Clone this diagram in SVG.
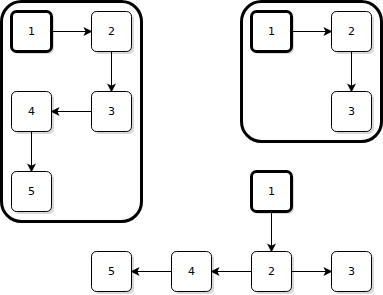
<svg xmlns="http://www.w3.org/2000/svg" width="383" height="295" viewBox="0 0 383 295">
<style>
.c{fill:#fff;stroke:#000;stroke-width:3}
.n rect.s{fill:#000;opacity:0.15;stroke:none}
.n rect.b{fill:#fff;stroke:#000;stroke-width:1}
.n.bold rect.b{stroke-width:3}
.n text{font-family:"DejaVu Sans",Verdana,sans-serif;font-size:11px;fill:#000;text-anchor:middle;dominant-baseline:central}
.e{stroke:#000;stroke-width:1;fill:none;marker-end:url(#a)}
</style>
<defs>
<marker id="a" viewBox="0 0 10 10" refX="9" refY="5" markerWidth="9" markerHeight="9" markerUnits="userSpaceOnUse" orient="auto">
<path d="M0,0 L10,5 L0,10 L2.5,5 Z" fill="#000"/>
</marker>
</defs>
<g id="container-left"><rect class="c" x="1.5" y="1.5" width="140" height="220" rx="20"/></g>
<g id="container-right"><rect class="c" x="241.5" y="1.5" width="140" height="140" rx="20"/></g>

<g id="L1" class="n bold"><rect class="s" x="14" y="14" width="40" height="40" rx="5"/><rect class="b" x="11.5" y="11.5" width="40" height="40" rx="5"/><text x="31.5" y="31.5">1</text></g>
<g id="L2" class="n"><rect class="s" x="94" y="14" width="40" height="40" rx="5"/><rect class="b" x="91.5" y="11.5" width="40" height="40" rx="5"/><text x="111.5" y="31.5">2</text></g>
<g id="L3" class="n"><rect class="s" x="94" y="94" width="40" height="40" rx="5"/><rect class="b" x="91.5" y="91.5" width="40" height="40" rx="5"/><text x="111.5" y="111.5">3</text></g>
<g id="L4" class="n"><rect class="s" x="14" y="94" width="40" height="40" rx="5"/><rect class="b" x="11.5" y="91.5" width="40" height="40" rx="5"/><text x="31.5" y="111.5">4</text></g>
<g id="L5" class="n"><rect class="s" x="14" y="174" width="40" height="40" rx="5"/><rect class="b" x="11.5" y="171.5" width="40" height="40" rx="5"/><text x="31.5" y="191.5">5</text></g>

<g id="R1" class="n bold"><rect class="s" x="254" y="14" width="40" height="40" rx="5"/><rect class="b" x="251.5" y="11.5" width="40" height="40" rx="5"/><text x="271.5" y="31.5">1</text></g>
<g id="R2" class="n"><rect class="s" x="334" y="14" width="40" height="40" rx="5"/><rect class="b" x="331.5" y="11.5" width="40" height="40" rx="5"/><text x="351.5" y="31.5">2</text></g>
<g id="R3" class="n"><rect class="s" x="334" y="94" width="40" height="40" rx="5"/><rect class="b" x="331.5" y="91.5" width="40" height="40" rx="5"/><text x="351.5" y="111.5">3</text></g>

<g id="B1" class="n bold"><rect class="s" x="254" y="174" width="40" height="40" rx="5"/><rect class="b" x="251.5" y="171.5" width="40" height="40" rx="5"/><text x="271.5" y="191.5">1</text></g>
<g id="B2" class="n"><rect class="s" x="254" y="254" width="40" height="40" rx="5"/><rect class="b" x="251.5" y="251.5" width="40" height="40" rx="5"/><text x="271.5" y="271.5">2</text></g>
<g id="B3" class="n"><rect class="s" x="334" y="254" width="40" height="40" rx="5"/><rect class="b" x="331.5" y="251.5" width="40" height="40" rx="5"/><text x="351.5" y="271.5">3</text></g>
<g id="B4" class="n"><rect class="s" x="174" y="254" width="40" height="40" rx="5"/><rect class="b" x="171.5" y="251.5" width="40" height="40" rx="5"/><text x="191.5" y="271.5">4</text></g>
<g id="B5" class="n"><rect class="s" x="94" y="254" width="40" height="40" rx="5"/><rect class="b" x="91.5" y="251.5" width="40" height="40" rx="5"/><text x="111.5" y="271.5">5</text></g>

<g id="connectors">
<line class="e" x1="51.5" y1="31.5" x2="91.5" y2="31.5"/>
<line class="e" x1="111.5" y1="51.5" x2="111.5" y2="91.5"/>
<line class="e" x1="91.5" y1="111.5" x2="51.5" y2="111.5"/>
<line class="e" x1="31.5" y1="131.5" x2="31.5" y2="171.5"/>
<line class="e" x1="291.5" y1="31.5" x2="331.5" y2="31.5"/>
<line class="e" x1="351.5" y1="51.5" x2="351.5" y2="91.5"/>
<line class="e" x1="271.5" y1="211.5" x2="271.5" y2="251.5"/>
<line class="e" x1="291.5" y1="271.5" x2="331.5" y2="271.5"/>
<line class="e" x1="251.5" y1="271.5" x2="211.5" y2="271.5"/>
<line class="e" x1="171.5" y1="271.5" x2="131.5" y2="271.5"/>
</g>
</svg>
